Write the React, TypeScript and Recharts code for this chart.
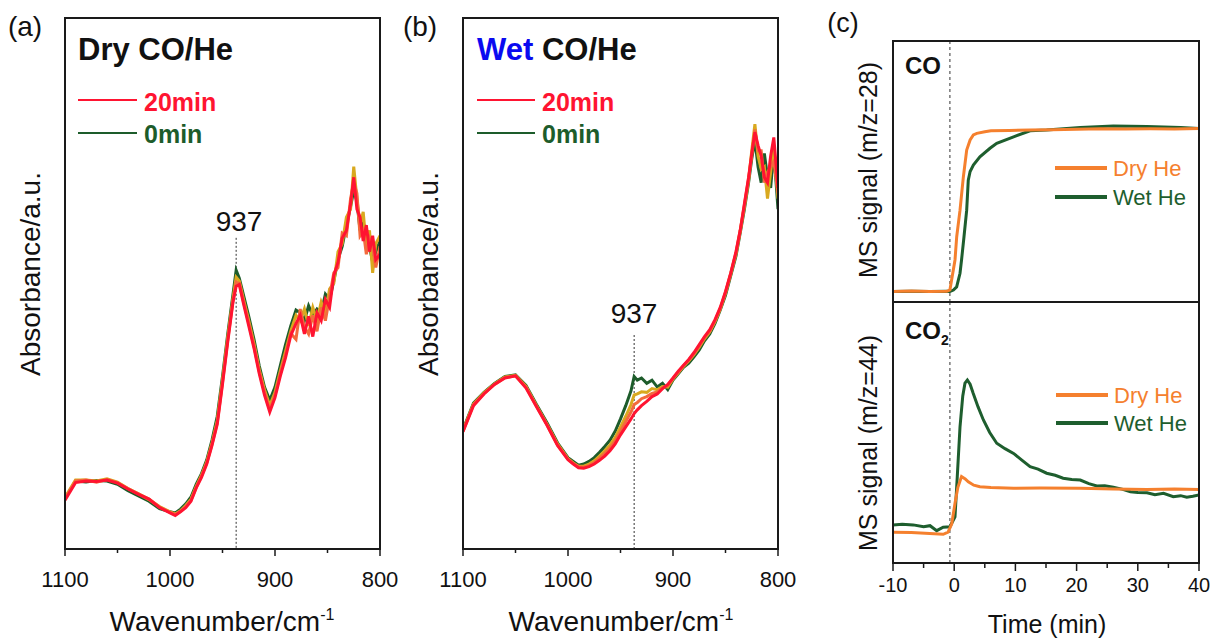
import { LineChart, Line, XAxis, YAxis, ReferenceLine } from "recharts";

// ---- spectra, panel (a): dry CO/He ----
const WN_A = [
  1100, 1090, 1080, 1070, 1060, 1050, 1040, 1030, 1020, 1010, 1000, 995, 990, 985, 980, 975,
  970, 965, 960, 955, 950, 945, 940, 937, 934, 930, 925, 920, 915, 910, 905, 900, 895, 890,
  885, 880, 876, 872, 868, 864, 860, 856, 852, 848, 844, 840, 836, 832, 828, 825, 822, 819,
  816, 813, 810, 807, 804, 800,
];
const RED_A = [
  0.092, 0.125, 0.128, 0.127, 0.13, 0.124, 0.113, 0.103, 0.094, 0.078, 0.068, 0.063, 0.07,
  0.078, 0.09, 0.115, 0.135, 0.16, 0.195, 0.235, 0.31, 0.39, 0.465, 0.495, 0.498, 0.462,
  0.42, 0.378, 0.33, 0.29, 0.258, 0.285, 0.325, 0.36, 0.402, 0.425, 0.44, 0.405, 0.438, 0.4,
  0.445, 0.43, 0.47, 0.455, 0.515, 0.54, 0.585, 0.6, 0.65, 0.7, 0.64, 0.625, 0.58, 0.61,
  0.56, 0.59, 0.545, 0.555,
];
const ORANGE_A = [
  0.095, 0.128, 0.13, 0.126, 0.131, 0.125, 0.114, 0.104, 0.094, 0.079, 0.069, 0.065, 0.071,
  0.08, 0.092, 0.116, 0.137, 0.162, 0.197, 0.238, 0.314, 0.394, 0.468, 0.503, 0.5, 0.466,
  0.425, 0.382, 0.334, 0.295, 0.262, 0.29, 0.33, 0.366, 0.406, 0.395, 0.452, 0.418, 0.405,
  0.44, 0.41, 0.455, 0.43, 0.475, 0.52, 0.53, 0.595, 0.59, 0.66, 0.69, 0.67, 0.59, 0.6, 0.555,
  0.585, 0.57, 0.53, 0.57,
];
const YELLOW_A = [
  0.097, 0.13, 0.13, 0.128, 0.132, 0.126, 0.114, 0.104, 0.093, 0.08, 0.07, 0.066, 0.072,
  0.082, 0.094, 0.118, 0.139, 0.164, 0.2, 0.242, 0.318, 0.398, 0.472, 0.512, 0.505, 0.47,
  0.43, 0.387, 0.338, 0.3, 0.27, 0.295, 0.335, 0.372, 0.41, 0.44, 0.43, 0.452, 0.42, 0.455,
  0.43, 0.465, 0.445, 0.49, 0.5, 0.56, 0.575, 0.625, 0.64, 0.72, 0.66, 0.61, 0.635, 0.57,
  0.6, 0.52, 0.575, 0.59,
];
const GREEN_A = [
  0.095, 0.128, 0.126, 0.129, 0.128, 0.122, 0.11, 0.1, 0.09, 0.076, 0.07, 0.068, 0.075,
  0.085, 0.098, 0.122, 0.142, 0.168, 0.205, 0.25, 0.325, 0.405, 0.48, 0.525, 0.51, 0.478,
  0.438, 0.395, 0.345, 0.305, 0.28, 0.305, 0.345, 0.385, 0.42, 0.45, 0.445, 0.43, 0.458,
  0.44, 0.452, 0.445, 0.48, 0.47, 0.505, 0.545, 0.57, 0.61, 0.645, 0.675, 0.655, 0.6, 0.615,
  0.58, 0.57, 0.54, 0.56, 0.58,
];

// ---- spectra, panel (b): wet CO/He ----
const WN_B = [
  1100, 1090, 1080, 1070, 1060, 1050, 1040, 1030, 1020, 1010, 1000, 995, 990, 985, 980, 975,
  970, 965, 960, 955, 950, 945, 940, 937, 934, 930, 925, 920, 915, 910, 905, 900, 895, 890,
  885, 880, 875, 870, 865, 860, 855, 850, 845, 840, 836, 832, 828, 825, 822, 819, 816, 813,
  810, 807, 804, 800,
];
const RED_B = [
  0.221, 0.27, 0.292, 0.31, 0.322, 0.326, 0.303, 0.268, 0.233, 0.195, 0.168, 0.16, 0.153,
  0.152, 0.155, 0.16, 0.167, 0.175, 0.185, 0.198, 0.215, 0.23, 0.245, 0.255, 0.262, 0.27,
  0.278, 0.287, 0.292, 0.302, 0.31, 0.322, 0.335, 0.346, 0.357, 0.37, 0.385, 0.4, 0.413,
  0.432, 0.455, 0.485, 0.52, 0.56, 0.6, 0.65, 0.7, 0.745, 0.785, 0.76, 0.74, 0.7, 0.69,
  0.74, 0.775, 0.68,
];
const ORANGE_B = [
  0.222, 0.272, 0.293, 0.31, 0.323, 0.326, 0.305, 0.269, 0.234, 0.196, 0.169, 0.161, 0.155,
  0.154, 0.157, 0.163, 0.171, 0.18, 0.19, 0.204, 0.222, 0.24, 0.258, 0.272, 0.276, 0.283,
  0.287, 0.293, 0.296, 0.303, 0.308, 0.321, 0.333, 0.345, 0.356, 0.368, 0.382, 0.398, 0.41,
  0.43, 0.453, 0.483, 0.519, 0.558, 0.6, 0.648, 0.698, 0.74, 0.79, 0.75, 0.75, 0.69, 0.71,
  0.72, 0.73, 0.67,
];
const YELLOW_B = [
  0.223, 0.273, 0.294, 0.311, 0.324, 0.327, 0.306, 0.27, 0.235, 0.198, 0.17, 0.162, 0.156,
  0.156, 0.16, 0.166, 0.175, 0.185, 0.196, 0.21, 0.23, 0.25, 0.272, 0.29, 0.292, 0.296,
  0.295, 0.302, 0.3, 0.306, 0.305, 0.32, 0.332, 0.344, 0.354, 0.366, 0.38, 0.396, 0.409,
  0.428, 0.452, 0.482, 0.518, 0.556, 0.598, 0.645, 0.695, 0.75, 0.8, 0.74, 0.715, 0.72,
  0.66, 0.71, 0.76, 0.66,
];
const GREEN_B = [
  0.225, 0.275, 0.295, 0.312, 0.325, 0.328, 0.308, 0.272, 0.238, 0.2, 0.172, 0.165, 0.158,
  0.16, 0.165, 0.172, 0.182, 0.193, 0.205, 0.222, 0.245, 0.27, 0.298, 0.325, 0.318, 0.322,
  0.312, 0.318, 0.305, 0.312, 0.3, 0.318, 0.33, 0.342, 0.35, 0.362, 0.375, 0.392, 0.405,
  0.425, 0.45, 0.478, 0.515, 0.552, 0.595, 0.64, 0.69, 0.735, 0.77, 0.72, 0.69, 0.745, 0.7,
  0.68, 0.75, 0.64,
];

// ---- MS signals, panel (c) ----
const T_CO_DRY = [
  -10, -7, -4, -1.2, -0.7, 0.13, 0.41, 0.95, 1.5, 2.04, 2.6, 3.13, 3.7, 5, 6, 9, 12.4, 16, 20,
  24, 28, 32, 36, 40,
];
const CO_DRY = [
  0.04, 0.042, 0.04, 0.041, 0.046, 0.161, 0.25, 0.352, 0.48, 0.582, 0.621, 0.64, 0.646, 0.652,
  0.656, 0.657, 0.659, 0.66, 0.662, 0.664, 0.663, 0.664, 0.663, 0.665,
];
const T_CO_WET = [
  -10, -7, -4, -1.2, -0.7, -0.13, 0.4, 0.95, 1.2, 1.6, 2.04, 2.3, 2.6, 3.13, 4.2, 5.85, 6.95,
  9.7, 12.4, 15.1, 20.6, 26, 31.5, 37, 40,
];
const CO_WET = [
  0.04, 0.041, 0.04, 0.041, 0.04, 0.046, 0.058, 0.11, 0.161, 0.25, 0.352, 0.467, 0.5, 0.525,
  0.556, 0.589, 0.608, 0.633, 0.656, 0.659, 0.669, 0.674, 0.672, 0.669, 0.665,
];
const T_CO2_DRY = [
  -10, -7, -4, -1.8, -1, -0.4, 0.13, 0.6, 1.2, 1.8, 2.3, 3.2, 4.2, 6, 9.7, 14, 20.6, 26, 31.5,
  36, 40,
];
const CO2_DRY = [
  0.118, 0.117, 0.113, 0.11, 0.118, 0.15, 0.229, 0.29, 0.331, 0.322, 0.311, 0.298, 0.292,
  0.289, 0.286, 0.287, 0.286, 0.284, 0.282, 0.284, 0.282,
];
const T_CO2_WET = [
  -10, -8.5, -6.7, -5, -3.95, -2.86, -1.8, -0.7, 0.13, 0.5, 0.95, 1.4, 1.76, 2.15, 2.6, 3.1,
  3.9, 4.77, 5.8, 6.95, 8.3, 9.7, 11, 12.4, 13.7, 15.1, 16.5, 17.8, 19.2, 20.6, 22, 23.3, 24.6,
  26, 27.4, 28.8, 30, 31.5, 32.8, 34.2, 35.8, 37, 38, 39, 40,
];
const CO2_WET = [
  0.146, 0.148, 0.146, 0.139, 0.143, 0.124, 0.137, 0.139, 0.177, 0.33, 0.522, 0.64, 0.689,
  0.701, 0.685, 0.65, 0.598, 0.548, 0.5, 0.459, 0.438, 0.42, 0.395, 0.369, 0.36, 0.344, 0.336,
  0.325, 0.32, 0.318, 0.304, 0.295, 0.296, 0.29, 0.283, 0.273, 0.27, 0.269, 0.262, 0.267,
  0.254, 0.258, 0.252, 0.256, 0.261,
];

const WN_TICKS = [1100, 1050, 1000, 950, 900, 850, 800];
const WN_LABELS = [1100, 1000, 900, 800];
const TIME_TICKS = [-10, -5, 0, 5, 10, 15, 20, 25, 30, 35, 40];
const TIME_LABELS = [-10, 0, 10, 20, 30, 40];

const FONT = "Arial, 'Liberation Sans', sans-serif";
const INK = "#1a1a1a";
const RED = "#ff1431";
const SALMON = "#f36a3c";
const YELLOW = "#d9a91f";
const GREEN = "#1d5c2b";
const ORANGE = "#f5802e";
const MS_GREEN = "#1e5e2e";

const rowsA = WN_A.map((wn, i) => ({
  wn,
  red: RED_A[i],
  orange: ORANGE_A[i],
  yellow: YELLOW_A[i],
  green: GREEN_A[i],
}));
const rowsB = WN_B.map((wn, i) => ({
  wn,
  red: RED_B[i],
  orange: ORANGE_B[i],
  yellow: YELLOW_B[i],
  green: GREEN_B[i],
}));
const zip = (ts: number[], vs: number[]) => ts.map((t, i) => ({ t, v: vs[i] }));

// tick line + optional label, drawn from the axis line downwards
function makeTick(labels: number[], major: number, minor: number, dy: number, size: number) {
  return (p: any) => {
    const v = p.payload.value;
    const isMajor = labels.includes(v);
    return (
      <g>
        <line x1={p.x} x2={p.x} y1={p.y} y2={p.y + (isMajor ? major : minor)} stroke={INK} strokeWidth={1.5} />
        {isMajor && (
          <text x={p.x} y={p.y + dy} textAnchor="middle" fontSize={size} fontFamily={FONT} fill="#111">
            {v}
          </text>
        )}
      </g>
    );
  };
}

function Txt(props: {
  x: number;
  y: number;
  size: number;
  color?: string;
  bold?: boolean;
  center?: boolean;
  rotate?: boolean;
  children: React.ReactNode;
}) {
  const { x, y, size, color = "#111", bold, center, rotate, children } = props;
  let transform = "translateY(-50%)";
  if (center) transform = "translate(-50%,-50%)";
  if (rotate) transform = "translate(-50%,-50%) rotate(-90deg)";
  return (
    <div
      style={{
        position: "absolute",
        left: x,
        top: y,
        fontSize: size,
        lineHeight: 1,
        fontWeight: bold ? 700 : 400,
        color,
        whiteSpace: "nowrap",
        transform,
      }}
    >
      {children}
    </div>
  );
}

function Swatch({ x1, x2, y, color, h }: { x1: number; x2: number; y: number; color: string; h: number }) {
  return (
    <div
      style={{ position: "absolute", left: x1, top: y - h / 2, width: x2 - x1, height: h, background: color }}
    />
  );
}

function Frame({ x1, x2, y1, y2 }: { x1: number; x2: number; y1: number; y2: number }) {
  return (
    <div
      style={{
        position: "absolute",
        left: x1 - 1,
        top: y1 - 1,
        width: x2 - x1 + 2,
        height: y2 - y1 + 2,
        border: `2px solid ${INK}`,
        boxSizing: "border-box",
      }}
    />
  );
}

function SpectrumPanel({ left, mLeft, mRight, rows, markTop }: any) {
  return (
    <div style={{ position: "absolute", left, top: 0 }}>
      <LineChart width={400} height={638} data={rows} margin={{ top: 18, right: mRight, bottom: 0, left: mLeft }}>
        <XAxis
          dataKey="wn"
          type="number"
          domain={[800, 1100]}
          reversed
          allowDataOverflow
          ticks={WN_TICKS}
          interval={0}
          height={89}
          tickSize={0}
          tickMargin={0}
          tickLine={false}
          axisLine={false}
          tick={makeTick(WN_LABELS, 7, 4, 38, 22)}
        />
        <YAxis hide domain={[0, 1]} allowDataOverflow />
        <ReferenceLine segment={[{ x: 937, y: markTop }, { x: 937, y: 0 }]} stroke="#333" strokeWidth={1} strokeDasharray="2 2" />
        <Line dataKey="green" stroke={GREEN} strokeWidth={3} dot={false} isAnimationActive={false} />
        <Line dataKey="yellow" stroke={YELLOW} strokeWidth={3} dot={false} isAnimationActive={false} />
        <Line dataKey="orange" stroke={SALMON} strokeWidth={3} dot={false} isAnimationActive={false} />
        <Line dataKey="red" stroke={RED} strokeWidth={3} dot={false} isAnimationActive={false} />
      </LineChart>
    </div>
  );
}

function MsPanel({ top, height, mTop, xHeight, dry, wet, showTicks }: any) {
  return (
    <div style={{ position: "absolute", left: 820, top }}>
      <LineChart width={392} height={height} margin={{ top: mTop, right: 13, bottom: 0, left: 73 }}>
        <XAxis
          dataKey="t"
          type="number"
          domain={[-10, 40]}
          allowDataOverflow
          ticks={TIME_TICKS}
          interval={0}
          height={xHeight}
          tickSize={0}
          tickMargin={0}
          tickLine={false}
          axisLine={false}
          tick={showTicks ? makeTick(TIME_LABELS, 8, 5, 29, 20) : false}
        />
        <YAxis hide domain={[0, 1]} allowDataOverflow />
        <ReferenceLine x={-0.7} stroke="#333" strokeWidth={1} strokeDasharray="3 3" />
        <Line data={wet} dataKey="v" stroke={MS_GREEN} strokeWidth={3} dot={false} isAnimationActive={false} />
        <Line data={dry} dataKey="v" stroke={ORANGE} strokeWidth={3} dot={false} isAnimationActive={false} />
      </LineChart>
    </div>
  );
}

export default function App() {
  return (
    <div
      style={{ position: "absolute", left: 0, top: 0, width: 1212, height: 638, background: "#fff", fontFamily: FONT, overflow: "hidden" }}
    >
      <SpectrumPanel left={0} mLeft={65} mRight={20} rows={rowsA} markTop={0.586} />
      <SpectrumPanel left={400} mLeft={63} mRight={22} rows={rowsB} markTop={0.403} />
      <MsPanel top={0} height={302} mTop={41} xHeight={0} dry={zip(T_CO_DRY, CO_DRY)} wet={zip(T_CO_WET, CO_WET)} showTicks={false} />
      <MsPanel top={302} height={336} mTop={0} xHeight={75} dry={zip(T_CO2_DRY, CO2_DRY)} wet={zip(T_CO2_WET, CO2_WET)} showTicks />

      <Frame x1={65} x2={380} y1={18} y2={549} />
      <Frame x1={463} x2={778} y1={18} y2={549} />
      <Frame x1={893} x2={1199} y1={41} y2={302} />
      <Frame x1={893} x2={1199} y1={302} y2={563} />

      {/* panel (a) */}
      <Txt x={25} y={27} size={28} center>(a)</Txt>
      <Txt x={78} y={49} size={31} bold>Dry CO/He</Txt>
      <Swatch x1={78} x2={137} y={100} color={RED} h={2} />
      <Swatch x1={78} x2={137} y={133} color={GREEN} h={2} />
      <Txt x={144} y={102} size={25} bold color={RED}>20min</Txt>
      <Txt x={144} y={134} size={25} bold color={GREEN}>0min</Txt>
      <Txt x={239} y={222} size={28} center>937</Txt>
      <Txt x={31} y={274} size={28} rotate>Absorbance/a.u.</Txt>
      <Txt x={222} y={621} size={28} center>
        Wavenumber/cm<sup style={{ fontSize: 16, verticalAlign: "11px" }}>-1</sup>
      </Txt>

      {/* panel (b) */}
      <Txt x={420} y={27} size={28} center>(b)</Txt>
      <Txt x={477} y={49} size={31} bold>
        <span style={{ color: "#0a0af0" }}>Wet</span> CO/He
      </Txt>
      <Swatch x1={477} x2={535} y={100} color={RED} h={2} />
      <Swatch x1={477} x2={535} y={133} color={GREEN} h={2} />
      <Txt x={542} y={102} size={25} bold color={RED}>20min</Txt>
      <Txt x={542} y={134} size={25} bold color={GREEN}>0min</Txt>
      <Txt x={634} y={314} size={28} center>937</Txt>
      <Txt x={429} y={274} size={28} rotate>Absorbance/a.u.</Txt>
      <Txt x={621} y={621} size={28} center>
        Wavenumber/cm<sup style={{ fontSize: 16, verticalAlign: "11px" }}>-1</sup>
      </Txt>

      {/* panel (c) */}
      <Txt x={843} y={23} size={27} center>(c)</Txt>
      <Txt x={905} y={66} size={24} bold>CO</Txt>
      <Txt x={905} y={333} size={24} bold>
        CO<sub style={{ fontSize: 14, verticalAlign: "-6px" }}>2</sub>
      </Txt>
      <Txt x={868} y={170} size={25} rotate>MS signal (m/z=28)</Txt>
      <Txt x={868} y={443} size={25} rotate>MS signal (m/z=44)</Txt>
      <Swatch x1={1055} x2={1107} y={168} color={ORANGE} h={4} />
      <Swatch x1={1055} x2={1107} y={197} color={MS_GREEN} h={4} />
      <Txt x={1113} y={169} size={22} color={ORANGE}>Dry He</Txt>
      <Txt x={1113} y={198} size={22} color={MS_GREEN}>Wet He</Txt>
      <Swatch x1={1056} x2={1108} y={395} color={ORANGE} h={4} />
      <Swatch x1={1056} x2={1108} y={423} color={MS_GREEN} h={4} />
      <Txt x={1114} y={396} size={22} color={ORANGE}>Dry He</Txt>
      <Txt x={1114} y={424} size={22} color={MS_GREEN}>Wet He</Txt>
      <Txt x={1047} y={624} size={25} center>Time (min)</Txt>
    </div>
  );
}
